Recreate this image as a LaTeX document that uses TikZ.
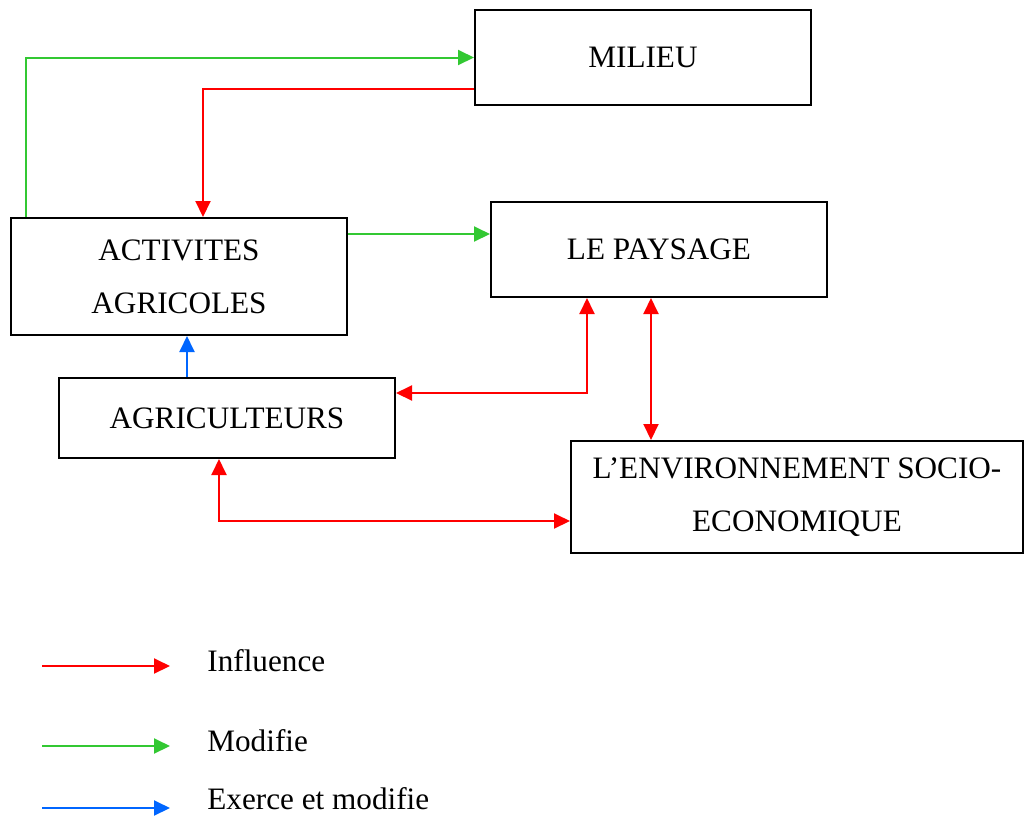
\documentclass[tikz,border=0pt]{standalone}
\usepackage{fontspec}
\setmainfont{Liberation Serif}
\usetikzlibrary{arrows.meta}

\definecolor{infl}{RGB}{255,0,0}
\definecolor{modif}{RGB}{50,200,50}
\definecolor{exer}{RGB}{0,102,255}

\begin{document}
\begin{tikzpicture}[x=0.5pt, y=-0.5pt,
  box/.style = {draw, line width=1pt, inner sep=0pt, minimum width=168pt, align=center,
                font=\fontsize{15.6}{26.5}\selectfont},
  link/.style = {line width=1pt, -{Triangle[length=8pt,width=7.5pt]}},
  both/.style = {line width=1pt, {Triangle[length=8pt,width=7.5pt]}-{Triangle[length=8pt,width=7.5pt]}},
  key/.style = {anchor=base west, inner sep=0pt, font=\fontsize{15.6}{19}\selectfont}]
\useasboundingbox (0,0) rectangle (1025,816);

\node[box, minimum height=47.5pt] (milieu) at (643,57.5) {MILIEU};
\node[box, minimum height=58.5pt] (act) at (179,276.5) {ACTIVITES\\AGRICOLES};
\node[box, minimum height=47.5pt] (paysage) at (659,249.5) {LE PAYSAGE};
\node[box, minimum height=40pt] (agric) at (227,418) {AGRICULTEURS};
\node[box, minimum width=226pt, minimum height=56pt] (env) at (797,497)
  {L'ENVIRONNEMENT SOCIO-\\ECONOMIQUE};

\draw[link, modif] ([xshift=8pt]act.north west) |- (milieu.west);
\draw[link, infl] ([yshift=-15.75pt]milieu.west) -| ([xshift=12pt]act.north);
\draw[link, modif] ([yshift=21.25pt]act.east) -- ([yshift=21.25pt]act.east -| paysage.west);
\draw[link, exer] ([xshift=-20pt]agric.north) -- ([xshift=-20pt]agric.north |- act.south);
\draw[both, infl] ([yshift=12.5pt]agric.east) -| ([xshift=-36pt]paysage.south);
\draw[both, infl] ([xshift=-4pt]paysage.south) -- ([xshift=-4pt]paysage.south |- env.north);
\draw[both, infl] ([xshift=-4pt]agric.south) |- ([yshift=-12pt]env.west);

% legende
\node[key] (kinfl) at (207,671) {Influence};
\node[key] (kmodif) at (207,751) {Modifie};
\node[key] (kexer) at (207,809) {Exerce et modifie};
\coordinate (a1) at (42,666);
\coordinate (b1) at (170,666);
\coordinate (a2) at (42,746);
\coordinate (b2) at (170,746);
\coordinate (a3) at (42,808);
\coordinate (b3) at (170,808);
\draw[link, infl] (a1) -- (b1);
\draw[link, modif] (a2) -- (b2);
\draw[link, exer] (a3) -- (b3);
\end{tikzpicture}
\end{document}
